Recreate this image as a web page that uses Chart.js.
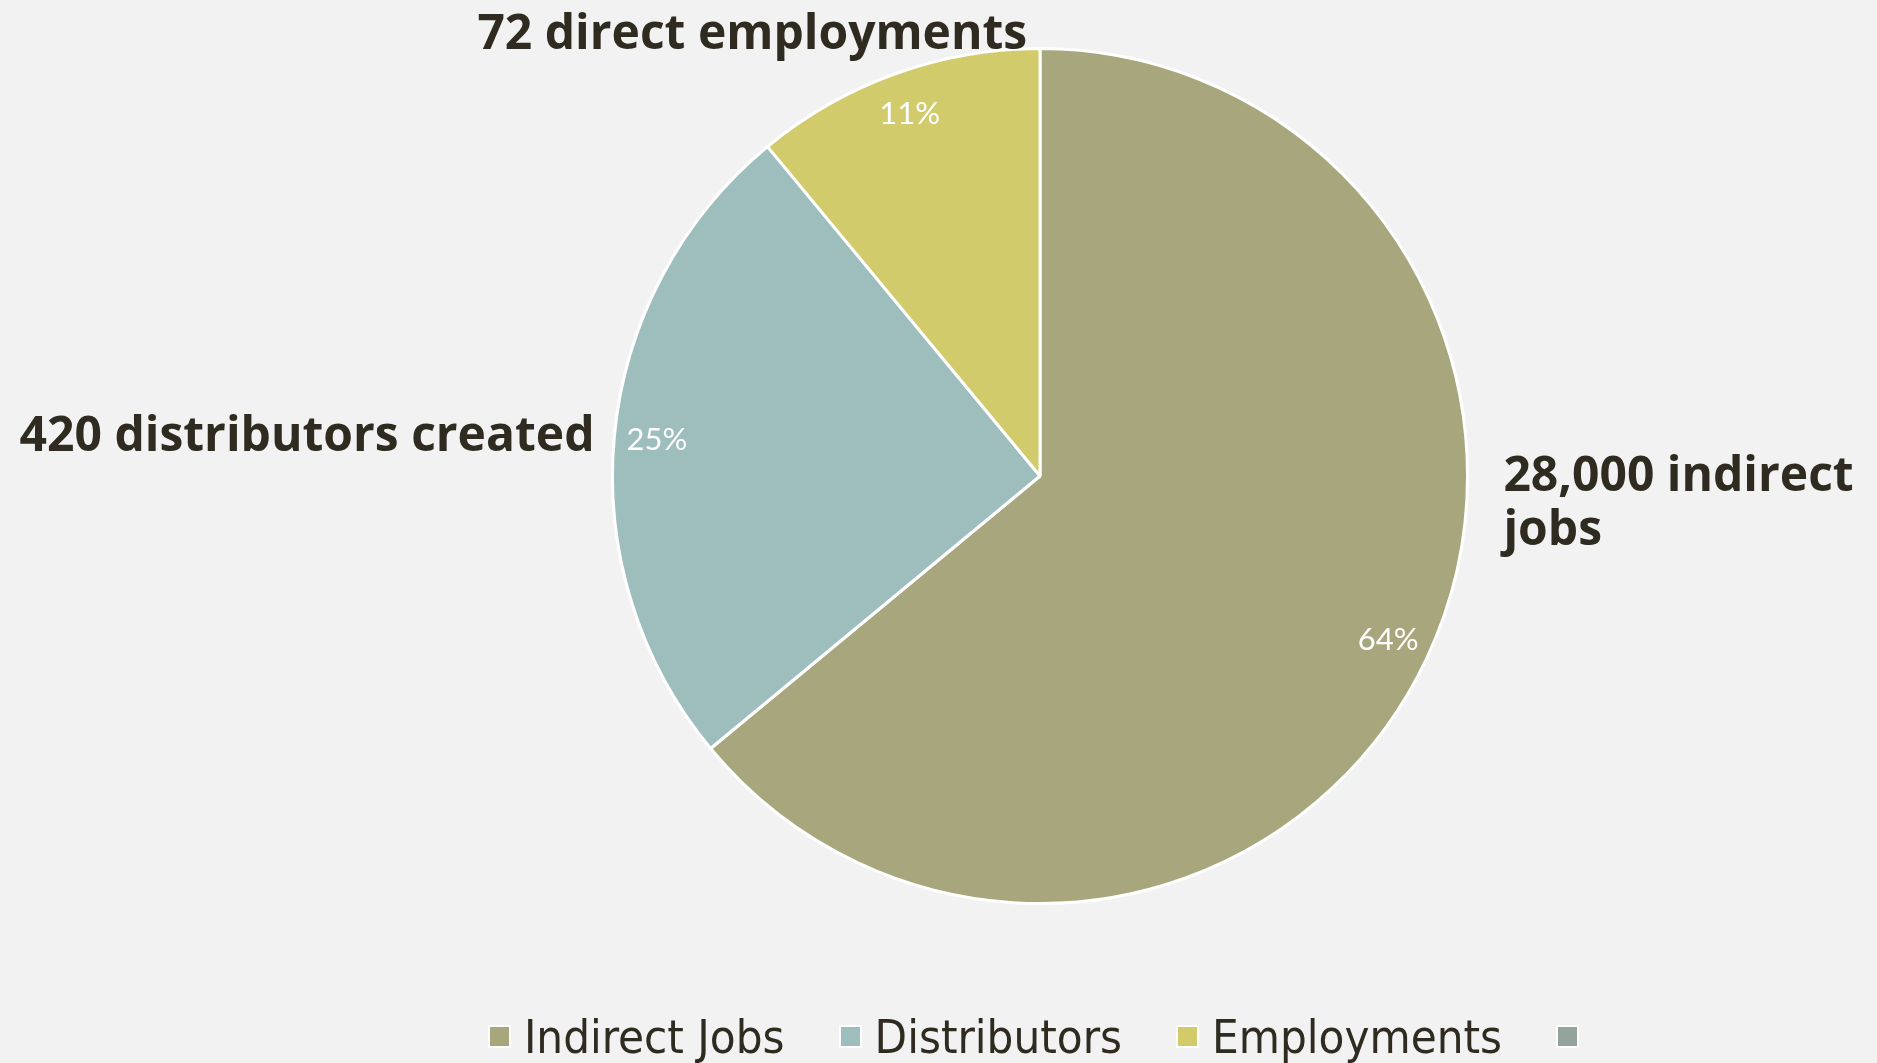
<!DOCTYPE html>
<html>
<head>
<meta charset="utf-8">
<script src="https://cdn.jsdelivr.net/npm/chart.js@4"></script>
<style>
  html, body { margin: 0; padding: 0; background: #f2f2f2; }
  #wrap { position: relative; width: 1877px; height: 1063px; }
  #legend {
    position: absolute; left: 0; right: 0; top: 1008px; height: 56px;
    padding-left: 203px;
    display: flex; justify-content: center; align-items: center;
    font-family: "Liberation Sans Narrow", "DejaVu Sans Condensed", sans-serif;
    font-size: 47px; color: #2f2b20;
  }
  .item { display: flex; align-items: center; margin: 0 27px; }
  .box { width: 19px; height: 19px; border: 2px solid #fff; margin-right: 13px; }
</style>
</head>
<body>
<div id="wrap">
  <canvas id="pie" width="1877" height="1063"></canvas>
  <div id="legend"></div>
</div>
<script>
const categories = ['Indirect Jobs', 'Distributors', 'Employments', ''];
const shares = [64, 25, 11, 0];
const calloutLines = [
    ['28,000 indirect', 'jobs'],
    ['420 distributors created'],
    ['72 direct employments'],
    []
];
const colors = ['#a8a67c', '#9ebdbd', '#d2cb6c', '#95a39d'];

// where each callout sits, as fractions of the radius from the centre
const calloutPlace = [
    { dx: 1.084, dy: 0.035, align: 'left' },
    { dx: -1.042, dy: -0.058, align: 'right' },
    { dx: -0.03, dy: -1.0, align: 'right' },
    null
];

const labelPlugin = {
    id: 'pieLabels',
    afterDatasetsDraw(chart) {
        const ctx = chart.ctx;
        const meta = chart.getDatasetMeta(0);
        const total = shares.reduce((a, b) => a + b, 0);
        meta.data.forEach((arc, i) => {
            if (!shares[i]) return;
            const r = arc.outerRadius;
            const mid = (arc.startAngle + arc.endAngle) / 2;

            // percentage inside the slice
            ctx.save();
            ctx.fillStyle = '#ffffff';
            ctx.font = '31px Lato, "DejaVu Sans", sans-serif';
            ctx.textAlign = 'center';
            ctx.textBaseline = 'middle';
            const pct = Math.round(shares[i] / total * 100) + '%';
            ctx.fillText(pct, arc.x + Math.cos(mid) * r * 0.9, arc.y + Math.sin(mid) * r * 0.9);

            // callout text outside
            const place = calloutPlace[i];
            ctx.fillStyle = '#2f2b20';
            ctx.font = 'bold 48px "Open Sans", "Noto Sans", sans-serif';
            ctx.textAlign = place.align;
            ctx.textBaseline = 'alphabetic';
            calloutLines[i].forEach((line, k) => {
                ctx.fillText(line, arc.x + place.dx * r, arc.y + place.dy * r + k * 54);
            });
            ctx.restore();
        });
    }
};

new Chart(document.getElementById('pie'), {
    type: 'pie',
    data: {
        labels: categories,
        datasets: [{
            data: shares,
            backgroundColor: colors,
            borderColor: '#ffffff',
            borderWidth: 3
        }]
    },
    options: {
        responsive: false,
        animation: false,
        layout: { padding: { left: 603, right: 400, top: 47, bottom: 158 } },
        plugins: {
            legend: { display: false },
            tooltip: { enabled: false }
        }
    },
    plugins: [labelPlugin]
});

// legend under the pie
const legend = document.getElementById('legend');
categories.forEach((name, i) => {
    const item = document.createElement('div');
    item.className = 'item';
    const box = document.createElement('span');
    box.className = 'box';
    box.style.background = colors[i];
    const text = document.createElement('span');
    text.textContent = name;
    item.appendChild(box);
    item.appendChild(text);
    legend.appendChild(item);
});
</script>
</body>
</html>
